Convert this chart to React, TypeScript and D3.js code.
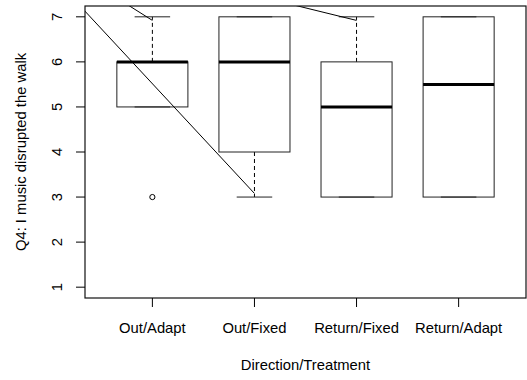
import React, { useEffect, useRef } from "react";
import * as d3 from "d3";

// box statistics, one entry per category
const categories = ["Out/Adapt", "Out/Fixed", "Return/Fixed", "Return/Adapt"];
const lowerWhisker = [5, 3, 3, 3];
const lowerHinge = [5, 4, 3, 3];
const medians = [6, 6, 5, 5.5];
const upperHinge = [6, 7, 6, 7];
const upperWhisker = [7, 7, 7, 7];
const outliers = [[3], [], [], []];

const yTicks = [1, 2, 3, 4, 5, 6, 7];

// stray line segments drawn over the plot (data units, clipped to the plot box)
const segmentA = [{ x: 0.2, y: 7.465 }, { x: 2, y: 3.08 }];
const segmentB = [{ x: 0.7, y: 7.35 }, { x: 1, y: 6.92 }];
const segmentC = [{ x: 2.3, y: 7.31 }, { x: 3, y: 6.92 }];

const yLabel = "Q4: I music disrupted the walk";
const xLabel = "Direction/Treatment";

const App = () => {
  const svgRef = useRef<SVGSVGElement | null>(null);

  useEffect(() => {
    const svg = d3.select(svgRef.current);
    svg.selectAll("*").remove();

    const width = 527;
    const height = 380;
    const left = 85, right = 526, top = 6, bottom = 298;
    const font = "'Liberation Sans', Arial, sans-serif";
    const fs = 14.8;

    svg.attr("width", width).attr("height", height);

    const x = d3.scaleLinear().domain([0.34, 4.66]).range([left, right]);
    const y = d3.scaleLinear().domain([0.76, 7.24]).range([bottom, top]);
    const boxHalf = 0.348;
    const capHalf = 0.174;

    svg.append("defs")
      .append("clipPath")
      .attr("id", "plotclip")
      .append("rect")
      .attr("x", left)
      .attr("y", top)
      .attr("width", right - left)
      .attr("height", bottom - top);

    const g = svg.append("g");
    const idx = d3.range(categories.length);

    // whiskers (dashed)
    idx.forEach((i) => {
      const cx = x(i + 1);
      [[upperHinge[i], upperWhisker[i]], [lowerHinge[i], lowerWhisker[i]]].forEach(([a, b]) => {
        if (a === b) return;
        g.append("line")
          .attr("x1", cx).attr("x2", cx)
          .attr("y1", y(a)).attr("y2", y(b))
          .attr("stroke", "#000")
          .attr("stroke-width", 1)
          .attr("stroke-dasharray", "4,3");
      });
      // staples
      [upperWhisker[i], lowerWhisker[i]].forEach((v) => {
        g.append("line")
          .attr("x1", x(i + 1 - capHalf)).attr("x2", x(i + 1 + capHalf))
          .attr("y1", y(v)).attr("y2", y(v))
          .attr("stroke", "#222")
          .attr("stroke-width", 1);
      });
    });

    // boxes
    g.selectAll(".box")
      .data(idx)
      .enter()
      .append("rect")
      .attr("class", "box")
      .attr("x", (i) => x(i + 1 - boxHalf))
      .attr("y", (i) => y(upperHinge[i]))
      .attr("width", x(1 + boxHalf) - x(1 - boxHalf))
      .attr("height", (i) => y(lowerHinge[i]) - y(upperHinge[i]))
      .attr("fill", "none")
      .attr("stroke", "#222")
      .attr("stroke-width", 1);

    // medians
    g.selectAll(".median")
      .data(idx)
      .enter()
      .append("line")
      .attr("class", "median")
      .attr("x1", (i) => x(i + 1 - boxHalf))
      .attr("x2", (i) => x(i + 1 + boxHalf))
      .attr("y1", (i) => y(medians[i]))
      .attr("y2", (i) => y(medians[i]))
      .attr("stroke", "#000")
      .attr("stroke-width", 3);

    // outliers
    idx.forEach((i) => {
      outliers[i].forEach((v) => {
        g.append("circle")
          .attr("cx", x(i + 1))
          .attr("cy", y(v))
          .attr("r", 2.6)
          .attr("fill", "none")
          .attr("stroke", "#000")
          .attr("stroke-width", 1);
      });
    });

    // overlay segments
    const line = d3.line<{ x: number; y: number }>()
      .x((d) => x(d.x))
      .y((d) => y(d.y));
    svg.append("g")
      .attr("clip-path", "url(#plotclip)")
      .selectAll("path")
      .data([segmentA, segmentB, segmentC])
      .enter()
      .append("path")
      .attr("d", (d) => line(d))
      .attr("fill", "none")
      .attr("stroke", "#000")
      .attr("stroke-width", 1);

    // plot frame
    svg.append("rect")
      .attr("x", left)
      .attr("y", top)
      .attr("width", right - left)
      .attr("height", bottom - top)
      .attr("fill", "none")
      .attr("stroke", "#111")
      .attr("stroke-width", 1.2);

    // y axis
    const yAxis = svg.append("g");
    yTicks.forEach((t) => {
      yAxis.append("line")
        .attr("x1", left - 9).attr("x2", left)
        .attr("y1", y(t)).attr("y2", y(t))
        .attr("stroke", "#000");
      yAxis.append("text")
        .attr("transform", `translate(62,${y(t)}) rotate(-90)`)
        .attr("text-anchor", "middle")
        .attr("font-family", font)
        .attr("font-size", fs)
        .text(t);
    });

    // x axis
    const xAxis = svg.append("g");
    categories.forEach((c, i) => {
      xAxis.append("line")
        .attr("x1", x(i + 1)).attr("x2", x(i + 1))
        .attr("y1", bottom).attr("y2", bottom + 9)
        .attr("stroke", "#000");
      xAxis.append("text")
        .attr("x", x(i + 1))
        .attr("y", 333)
        .attr("text-anchor", "middle")
        .attr("font-family", font)
        .attr("font-size", fs)
        .text(c);
    });

    svg.append("text")
      .attr("x", (left + right) / 2)
      .attr("y", 370)
      .attr("text-anchor", "middle")
      .attr("font-family", font)
      .attr("font-size", fs)
      .text(xLabel);

    svg.append("text")
      .attr("transform", `translate(26,${(top + bottom) / 2}) rotate(-90)`)
      .attr("text-anchor", "middle")
      .attr("font-family", font)
      .attr("font-size", fs)
      .text(yLabel);
  }, []);

  return (
    <div style={{ position: "absolute", left: 0, top: 0 }}>
      <svg ref={svgRef}></svg>
    </div>
  );
};

export default App;
